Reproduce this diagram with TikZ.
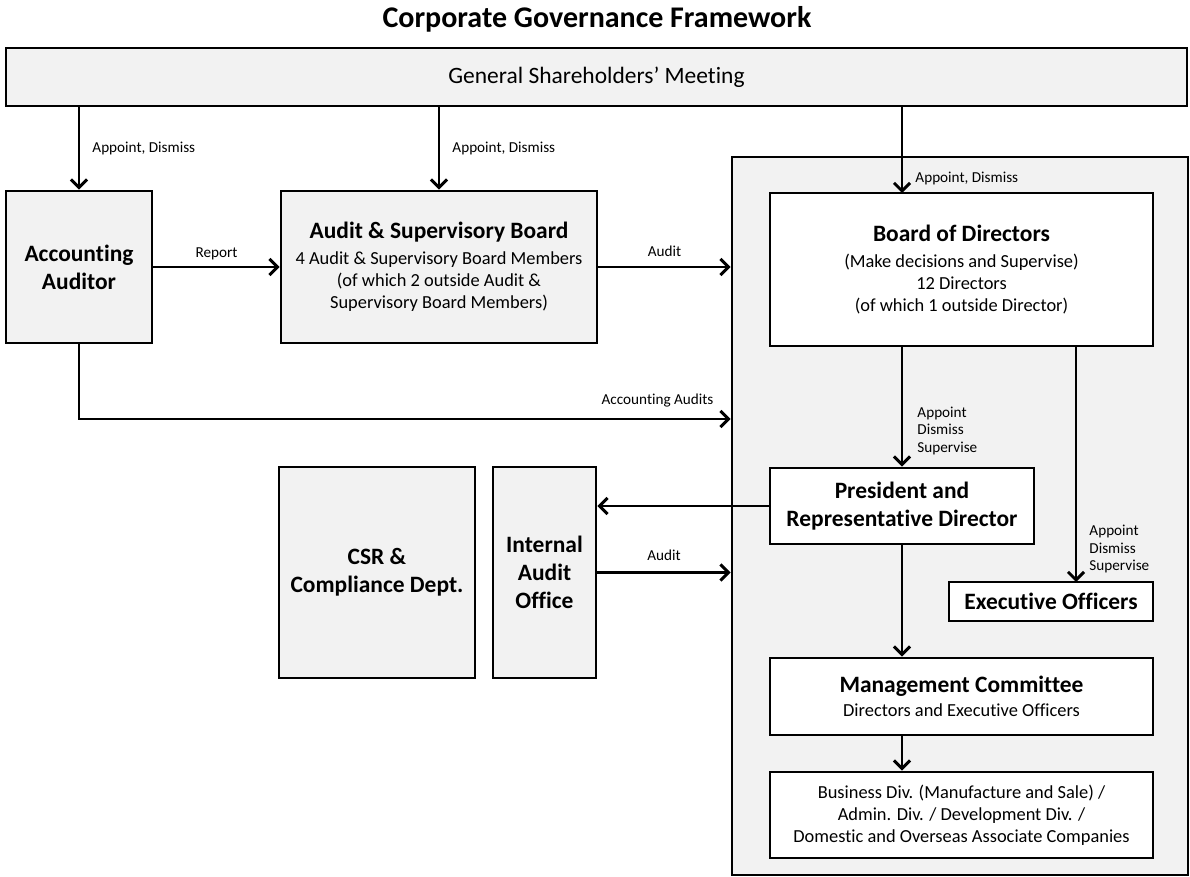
\documentclass[tikz,border=0pt]{standalone}
\usepackage{fontspec}
\setmainfont{Carlito}[Ligatures={TeX,NoCommon}]
\usetikzlibrary{arrows.meta}
\definecolor{boxgray}{HTML}{F2F2F2}
\newcommand{\boxtitle}{\fontsize{17.6}{21}\selectfont\bfseries}

\begin{document}
\begin{tikzpicture}[x=0.75pt, y=-0.75pt, line width=2.2pt,
  >={Straight Barb[length=6pt,width=12pt]},
  box/.style={draw, fill=boxgray, rectangle, inner sep=0pt, align=center,
    font=\fontsize{13.8}{16.5}\selectfont},
  wbox/.style={box, fill=white},
  tbox/.style={box, font=\boxtitle},
  wtbox/.style={wbox, font=\boxtitle},
  lbl/.style={inner sep=0pt, align=left, font=\fontsize{11.4}{13}\selectfont}]
  \useasboundingbox (0,0) rectangle (1190,877);

  \node[font=\fontsize{22.5}{26}\selectfont\bfseries] (title) at (597,19) {Corporate Governance Framework};

  \node[box, minimum width=885.75pt, minimum height=43.5pt, font=\fontsize{17.6}{20}\selectfont] (gsm) at (596.5,77) {General Shareholders’ Meeting};
  \node[tbox, minimum width=109.5pt, minimum height=114pt] (acc) at (79,267) {Accounting\\Auditor};
  \node[box, minimum width=237pt, minimum height=114pt] (asb) at (439,267)
    {{\boxtitle Audit \& Supervisory Board}\\[3pt]4 Audit \& Supervisory Board Members\\(of which 2 outside Audit \&\\Supervisory Board Members)};
  \node[box, minimum width=342pt, minimum height=538.5pt] (grp) at (960,516) {};
  \node[wbox, minimum width=287.25pt, minimum height=114.75pt] (bod) at (961.5,269.5)
    {{\boxtitle Board of Directors}\\[3pt](Make decisions and Supervise)\\12 Directors\\(of which 1 outside Director)};
  \node[wtbox, minimum width=198pt, minimum height=57pt] (pres) at (902,506) {President and\\Representative Director};
  \node[wtbox, minimum width=153pt, minimum height=29.25pt] (exec) at (1051,601.5) {Executive Officers};
  \node[wbox, minimum width=287.25pt, minimum height=57.75pt] (mgmt) at (961.5,696.5)
    {{\boxtitle Management Committee}\\[1.5pt]Directors and Executive Officers};
  \node[wbox, minimum width=287.25pt, minimum height=64.5pt] (biz) at (961.5,815)
    {Business Div. (Manufacture and Sale) /\\Admin. Div. / Development Div. /\\Domestic and Overseas Associate Companies};
  \node[tbox, minimum width=147pt, minimum height=158.25pt] (csr) at (377,572.5) {CSR \&\\Compliance Dept.};
  \node[tbox, minimum width=77.25pt, minimum height=158.25pt] (iao) at (544.5,572.5) {Internal\\Audit\\Office};

  \coordinate (bodin) at (902,193);
  \coordinate (execin) at (1076,582);
  \coordinate (accbend) at (79,419);

  \draw[->] (gsm.south -| acc.north) -- node[lbl, anchor=west, xshift=9pt] {Appoint, Dismiss} (acc.north);
  \draw[->] (gsm.south -| asb.north) -- node[lbl, anchor=west, xshift=9pt] {Appoint, Dismiss} (asb.north);
  \draw[->] (gsm.south -| bodin) -- node[lbl, anchor=west, pos=0.83, xshift=9pt] {Appoint, Dismiss} (bodin);
  \draw[->] (acc) -- node[lbl, above=4.5pt] {Report} (asb);
  \draw[->] (asb) -- node[lbl, above=6.5pt] {Audit} (asb -| grp.west);
  \draw[->] (acc) -- (accbend) -- node[lbl, above=8pt, pos=0.888] {Accounting Audits} (accbend -| grp.west);
  \draw[->] (pres.north |- bod.south) -- node[lbl, anchor=west, pos=0.7, xshift=10.5pt] {Appoint\\Dismiss\\Supervise} (pres);
  \draw[->] (bod.south -| execin) -- node[lbl, anchor=west, pos=0.86, xshift=9pt] {Appoint\\Dismiss\\Supervise} (execin);
  \draw[->] (pres) -- (pres -| iao.east);
  \draw[->] (iao) -- node[lbl, above=8pt] {Audit} (iao -| grp.west);
  \draw[->] (pres) -- (pres |- mgmt.north);
  \draw[->] (pres |- mgmt.south) -- (pres |- biz.north);
\end{tikzpicture}
\end{document}
